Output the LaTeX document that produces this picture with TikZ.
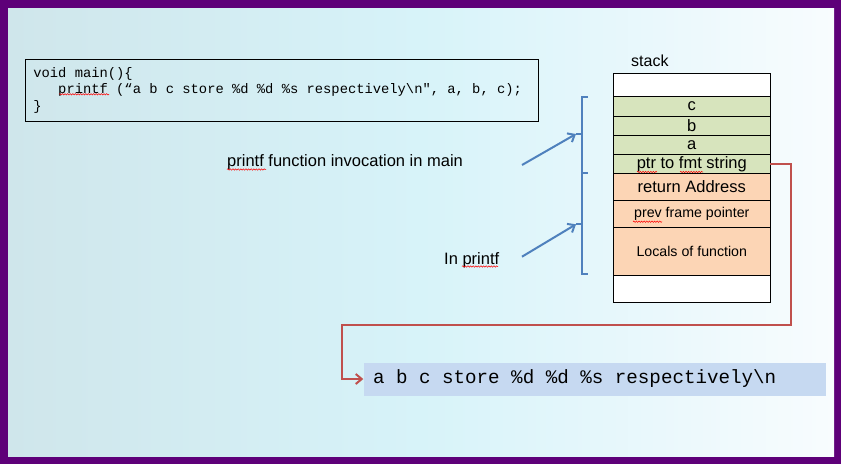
\documentclass[tikz,border=0pt]{standalone}
\usepackage{fontspec}
\setmainfont{Liberation Sans}
\setmonofont{Liberation Mono}
\usetikzlibrary{positioning,arrows.meta,decorations.pathmorphing}

\definecolor{framepurple}{HTML}{5E0079}
\definecolor{bgleft}{HTML}{CFE6EB}
\definecolor{bgmid}{HTML}{D7F3F9}
\definecolor{bgright}{HTML}{F8FCFE}
\definecolor{cellgreen}{HTML}{D7E4BD}
\definecolor{cellorange}{HTML}{FCD5B5}
\definecolor{braceblue}{HTML}{4F81BD}
\definecolor{linkred}{HTML}{C0504D}
\definecolor{fmtblue}{HTML}{C6D9F1}

\tikzset{
  cell/.style={draw=black, line width=0.8pt, minimum width=157pt, inner sep=0pt, outer sep=0pt,
    font=\fontsize{16.5}{18}\selectfont},
  emptycell/.style={cell, fill=white},
  argcell/.style={cell, fill=cellgreen},
  framecell/.style={cell, fill=cellorange},
  smallcell/.style={font=\fontsize{14.2}{16}\selectfont},
  notetext/.style={font=\fontsize{16.5}{18}\selectfont, inner sep=0pt},
  bracestyle/.style={draw=braceblue, line width=2pt},
  bluearrow/.style={draw=braceblue, line width=2pt, -{Straight Barb[length=6pt,width=10pt]}},
  redlink/.style={draw=linkred, line width=2pt, -{Straight Barb[length=6pt,width=10pt]}},
  squiggle/.style={draw=red, line width=0.5pt, decorate,
    decoration={snake, amplitude=0.7pt, segment length=2.6pt}}
}

\begin{document}
\begin{tikzpicture}[x=1pt,y=-1pt]
    % Define the position of the stack and the brace
    \def\stackx{613.3}
    \def\stacktop{73.3}
    \def\bracex{582}

    % Frame and background
    \useasboundingbox (0,0) rectangle (841,464);
    \fill[framepurple] (0,0) rectangle (841,464);
    \shade[left color=bgleft, right color=bgright, middle color=bgmid] (8,8) rectangle (834,456);

    % The code of main
    \node[draw, line width=0.8pt, anchor=north west, minimum width=513pt, minimum height=62pt,
      text width=497pt, inner xsep=8pt, inner ysep=0pt, align=left,
      font=\ttfamily\fontsize{13.8}{16.7}\selectfont] (code) at (25,59)
      {\spaceskip=0.6em\relax void main()\{\\
       \hspace*{1.8em}printf (“a b c store \%d \%d \%s respectively\textbackslash n", a, b, c);\\
       \}};

    % Draw the stack
    \node[anchor=base west, notetext, font=\fontsize{16}{18}\selectfont] (stacklabel) at (631,66) {stack};
    \node[emptycell, anchor=north west, minimum height=23.4pt] (top) at (\stackx,\stacktop) {};
    \node[argcell, minimum height=19.3pt, below=0pt of top] (c) {c};
    \node[argcell, minimum height=19.3pt, below=0pt of c] (b) {b};
    \node[argcell, minimum height=19pt, below=0pt of b] (a) {a};
    \node[argcell, minimum height=19.4pt, below=0pt of a] (ptr) {ptr to fmt string};
    \node[framecell, minimum height=26.6pt, below=0pt of ptr] (ret) {return Address};
    \node[framecell, smallcell, minimum height=27pt, below=0pt of ret] (prev) {prev frame pointer};
    \node[framecell, smallcell, minimum height=47.7pt, below=0pt of prev] (locals) {Locals of function};
    \node[emptycell, minimum height=27pt, below=0pt of locals] (bottom) {};

    % Braces for the two frames
    \draw[bracestyle] (\bracex+6,96.7) -- (\bracex,96.7) -- (\bracex,274) -- (\bracex+6,274);
    \draw[bracestyle] (\bracex-6,134) -- (\bracex,134);
    \draw[bracestyle] (\bracex,172.7) -- (\bracex+6,172.7);
    \draw[bracestyle] (\bracex-6,224.3) -- (\bracex,224.3);

    % Labels and arrows to the braces
    \node[anchor=base west, notetext] (mainnote) at (227,166) {printf function invocation in main};
    \node[anchor=base west, notetext] (printfnote) at (444,264) {In printf};
    \coordinate (mainstart) at (522,165);
    \coordinate (mainmark) at (\bracex-6,134);
    \coordinate (printfstart) at (522,256.7);
    \coordinate (printfmark) at (\bracex-6,224.3);
    \draw[bluearrow] (mainstart) -- (mainmark);
    \draw[bluearrow] (printfstart) -- (printfmark);

    % The format string and the link from the stack
    \node[fill=fmtblue, anchor=west, minimum width=462pt, minimum height=33pt, text width=443pt,
      inner xsep=9.5pt, inner ysep=0pt, align=left,
      font=\ttfamily\fontsize{19.2}{21}\selectfont] (fmt) at (363.3,379)
      {\spaceskip=0.6em\relax a b c store \%d \%d \%s respectively\textbackslash n};
    \coordinate (rturn) at (790.5,325);
    \coordinate (lturn) at (341.7,325);
    \draw[redlink] (ptr.east) -| (rturn) -- (lturn) |- (fmt.west);

    % Spelling marks
    \draw[squiggle] (59,94.3) -- (109,94.3);
    \draw[squiggle] (227,169.5) -- (266,169.5);
    \draw[squiggle] (462,266.5) -- (498,266.5);
    \draw[squiggle] (637,172) -- (657,172);
    \draw[squiggle] (680,172) -- (703,172);
    \draw[squiggle] (633,221.7) -- (662,221.7);
\end{tikzpicture}
\end{document}
